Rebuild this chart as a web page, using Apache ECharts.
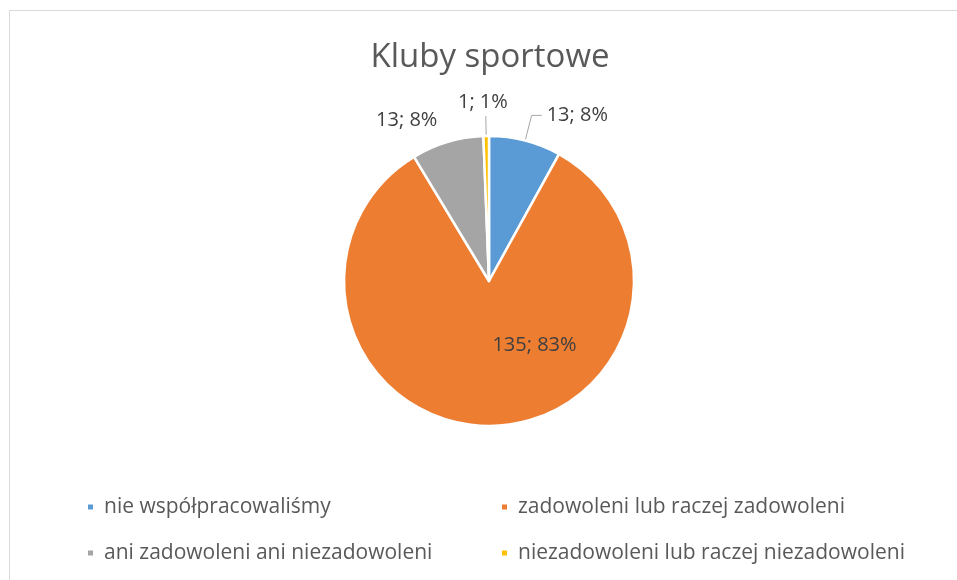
<!DOCTYPE html>
<html>
<head>
<meta charset="UTF-8">
<title>Kluby sportowe</title>
<script src="https://cdn.jsdelivr.net/npm/echarts@6/dist/echarts.min.js"></script>
<style>
  html, body { margin: 0; padding: 0; background: #fff; }
  #chart { width: 957px; height: 580px; }
</style>
</head>
<body>
<div id="chart"></div>
<script>
var categories = ['nie współpracowaliśmy', 'zadowoleni lub raczej zadowoleni',
  'ani zadowoleni ani niezadowoleni', 'niezadowoleni lub raczej niezadowoleni'];
var values = [13, 135, 13, 1];
var colors = ['#5B9BD5', '#ED7D31', '#A5A5A5', '#FFC000'];

var font = "'Open Sans', sans-serif";

// per-slice label setup (outside with leader line, inside, outside without line)
var labelCfg = [
  { label: { position: 'outside' }, labelLine: { show: true, length: 26, length2: 10 } },
  { label: { position: 'inside' }, labelLine: { show: false } },
  { label: { position: 'outside' }, labelLine: { show: false, length: 14, length2: 4 } },
  { label: { position: 'outside' }, labelLine: { show: true, length: 20, length2: 0 } }
];

var pieData = categories.map(function (name, i) {
  return {
    name: name,
    value: values[i],
    itemStyle: { color: colors[i] },
    label: labelCfg[i].label,
    labelLine: labelCfg[i].labelLine
  };
});

var legendText = { fontFamily: font, fontSize: 21, lineHeight: 22, color: '#595959', padding: [0, 0, 0, 5] };

var chart = echarts.init(document.getElementById('chart'));
chart.setOption({
  animation: false,
  graphic: [{
    type: 'rect',
    shape: { x: 9.5, y: 10.5, width: 1000, height: 700 },
    style: { fill: 'none', stroke: '#D9D9D9', lineWidth: 1 }
  }],
  title: {
    text: 'Kluby sportowe',
    left: 485,
    textAlign: 'center',
    top: 36,
    textStyle: { fontFamily: font, fontSize: 33, fontWeight: 'normal', color: '#595959' }
  },
  legend: [{
    orient: 'vertical',
    left: 86,
    top: 496,
    padding: 0,
    icon: 'rect',
    itemWidth: 7,
    itemHeight: 7,
    itemGap: 24,
    data: [categories[0], categories[2]],
    textStyle: legendText
  }, {
    orient: 'vertical',
    left: 500,
    top: 496,
    padding: 0,
    icon: 'rect',
    itemWidth: 7,
    itemHeight: 7,
    itemGap: 24,
    data: [categories[1], categories[3]],
    textStyle: legendText
  }],
  series: [{
    type: 'pie',
    center: [489, 281],
    radius: 145,
    startAngle: 90,
    clockwise: true,
    percentPrecision: 0,
    itemStyle: { borderColor: '#fff', borderWidth: 2.5 },
    label: {
      formatter: '{c}; {d}%',
      fontFamily: font,
      fontSize: 20,
      color: '#404040'
    },
    labelLine: { lineStyle: { color: '#A6A6A6', width: 1 } },
    labelLayout: function (p) {
      if (p.dataIndex === 1) return { dx: 44, dy: -11 };
      if (p.dataIndex === 2) return { dx: 32, dy: -18 };
      if (p.dataIndex === 3) return { dx: 27, dy: -14 };
      return {};
    },
    data: pieData
  }]
});
</script>
</body>
</html>
